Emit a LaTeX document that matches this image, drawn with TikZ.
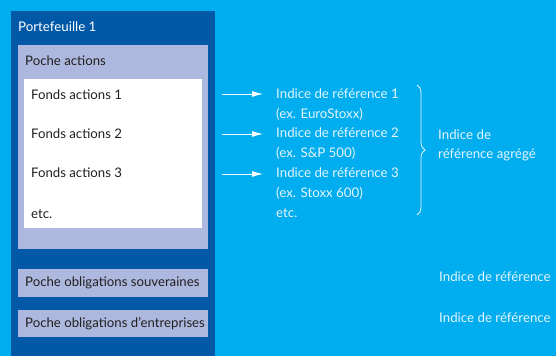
\documentclass[tikz,border=0pt]{standalone}
\usepackage{fontspec}
\setmainfont{Lato}
\usepackage{tikz}
\usetikzlibrary{arrows.meta}
\usetikzlibrary{decorations.pathreplacing}
\definecolor{fondbleu}{RGB}{0,174,239}
\definecolor{foncebleu}{RGB}{0,88,166}
\definecolor{pochebleu}{RGB}{172,184,221}
\definecolor{textebleu}{RGB}{228,244,252}
\definecolor{textenoir}{RGB}{35,31,32}
\tikzset{mypoche/.style={fill=pochebleu,draw=none},
mytexte/.style={anchor=west,inner sep=0pt,text=textenoir,font=\fontsize{13.2}{15}\selectfont},
myindice/.style={anchor=west,inner sep=0pt,text=textebleu,font=\fontsize{13.3}{15}\selectfont},
myarrow/.style={-{Latex[length=11pt,width=6pt]},draw=white,line width=0.8pt,shorten >=13pt}}
\begin{document}
\begin{tikzpicture}[x=1pt,y=-1pt]
\useasboundingbox (0,0) rectangle (556,356);
\fill[fondbleu] (0,0) rectangle (556,356);
% portefeuille
\fill[foncebleu] (11,11) rectangle (215,356);
\node[myindice,text=white] (pf) at (18,26.5){Portefeuille 1};
\fill[mypoche] (18,45) rectangle (208,249);
\node[mytexte] (pa) at (25,61){Poche actions};
\fill[white] (24,79) rectangle (202,228);
\node[mytexte] (f1) at (31,95){Fonds actions 1};
\node[mytexte] (f2) at (31,134){Fonds actions 2};
\node[mytexte] (f3) at (31,173){Fonds actions 3};
\node[mytexte] (fe) at (31,214){etc.};
\fill[mypoche] (18,269) rectangle (208,297);
\node[mytexte] (os) at (25,283){Poche obligations souveraines};
\fill[mypoche] (18,310) rectangle (208,337);
\node[mytexte] (oe) at (25,324){Poche obligations d'entreprises};
% indices
\node[myindice] (r1) at (276,94){Indice de référence 1};
\node[myindice] (x1) at (276,114){(ex. EuroStoxx)};
\node[myindice] (r2) at (276,133){Indice de référence 2};
\node[myindice] (x2) at (276,153){(ex. S\&P 500)};
\node[myindice] (r3) at (276,173){Indice de référence 3};
\node[myindice] (x3) at (276,193){(ex. Stoxx 600)};
\node[myindice] (re) at (276,213){etc.};
\coordinate (a1) at (222,94);
\coordinate (a2) at (222,134);
\coordinate (a3) at (222,174);
\draw[myarrow] (a1) -- (r1.west);
\draw[myarrow] (a2) -- (a2-|r2.west);
\draw[myarrow] (a3) -- (a3-|r3.west);
\coordinate (bt) at (417,85);
\coordinate (bb) at (417,215);
\draw[textebleu,line width=0.8pt,decorate,decoration={brace,amplitude=8pt}] (bt) -- (bb);
\node[myindice] (ag1) at (438,135){Indice de};
\node[myindice] (ag2) at (438,155){référence agrégé};
\node[myindice] (io) at (439,277){Indice de référence};
\node[myindice] (ie) at (439,318){Indice de référence};
\end{tikzpicture}
\end{document}
